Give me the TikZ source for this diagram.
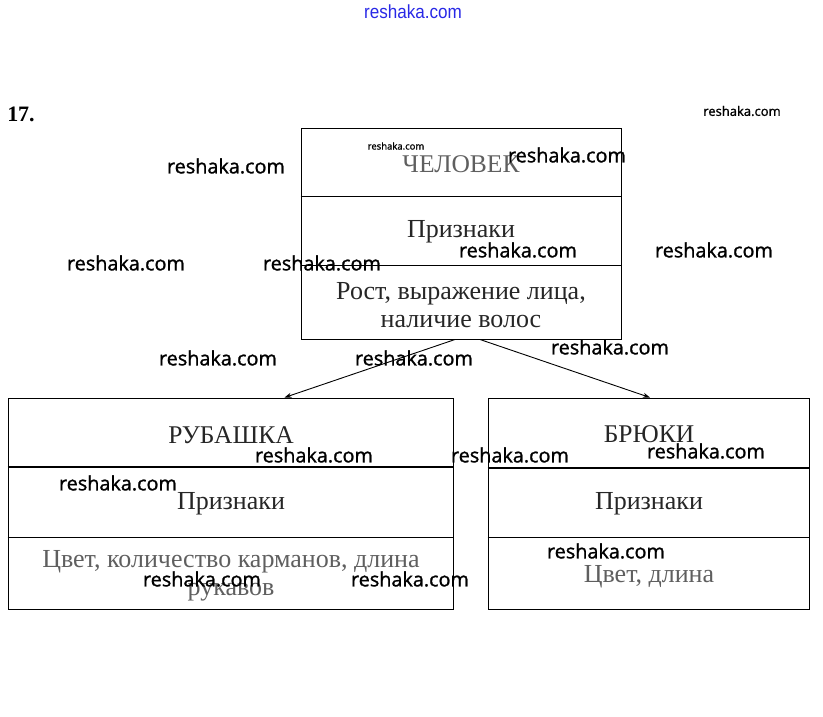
\documentclass[tikz,border=0pt]{standalone}
\usepackage{fontspec}
\setmainfont{Liberation Serif}
\newfontfamily\wmfont{Open Sans}[FakeBold=1.2]
\newfontfamily\wmthin{Liberation Sans}
\usetikzlibrary{arrows.meta, positioning, calc}
\definecolor{fadedtext}{RGB}{95, 95, 95}
\definecolor{wmblue}{RGB}{40, 40, 230}

\begin{document}
\begin{tikzpicture}[
    x=1pt, y=-1pt,
    box/.style={rectangle, draw, line width=1pt, minimum width=#1, minimum height=211pt, inner sep=0pt},
    title/.style={font=\fontsize{25.5}{28}\selectfont, text=fadedtext},
    attr/.style={font=\fontsize{26}{28}\selectfont, align=center, text=black!85},
    wm/.style={font=\wmfont\fontsize{19.8}{22}\selectfont, text=black},
    wmsmall/.style={font=\wmfont\fontsize{13}{15}\selectfont, text=black}
]
\useasboundingbox (0,0) rectangle (823,716);

% Number
\node[font=\bfseries\fontsize{22}{24}\selectfont] (num) at (21,114) {17.};

% Top box
\node[box=320pt] (human) at (461,233.5) {};
\draw[line width=1pt] (human.west |- 0,196) -- (human.east |- 0,196);
\draw[line width=1pt] (human.west |- 0,265) -- (human.east |- 0,265);
\node[title] (humanname) at (461,164) {ЧЕЛОВЕК};
\node[attr] (humansign) at (461,232) {Признаки};
\node[attr] (humanattr) at (461,305) {Рост, выражение лица,\\наличие волос};

% Left box
\node[box=445pt] (shirt) at (230.5,503.5) {};
\draw[line width=1.8pt] (shirt.west |- 0,467) -- (shirt.east |- 0,467);
\draw[line width=1pt] (shirt.west |- 0,537) -- (shirt.east |- 0,537);
\node[title, text=black!85] (shirtname) at (231,435) {РУБАШКА};
\node[attr] (shirtsign) at (231,504) {Признаки};
\node[attr, text=fadedtext] (shirtattr) at (231,576) {Цвет, количество карманов, длина\\рукавов};

% Right box
\node[box=321pt] (pants) at (648.5,503.5) {};
\draw[line width=1.8pt] (pants.west |- 0,468) -- (pants.east |- 0,468);
\draw[line width=1pt] (pants.west |- 0,537) -- (pants.east |- 0,537);
\node[title, text=black!85] (pantsname) at (649,434) {БРЮКИ};
\node[attr] (pantssign) at (649,504) {Признаки};
\node[attr, text=fadedtext] (pantsattr) at (649,577) {Цвет, длина};

% Arrows
\draw[-{Stealth[length=7pt,width=5pt]}, line width=0.9pt] ([xshift=-6pt]human.south) -- ([xshift=54pt]shirt.north);
\draw[-{Stealth[length=7pt,width=5pt]}, line width=0.9pt] ([xshift=19pt]human.south) -- ([xshift=1.5pt]pants.north);

% Watermarks
\node[font=\wmthin\fontsize{19}{21}\selectfont, text=wmblue, xscale=0.9] (wm0) at (413,12) {reshaka.com};
\node[wmsmall] (wm1) at (742,111) {reshaka.com};
\node[font=\wmfont\fontsize{9.5}{11}\selectfont] (wm2) at (396,146) {reshaka.com};
\node[wm] (wm3) at (567,155) {reshaka.com};
\node[wm] (wm4) at (226,166) {reshaka.com};
\node[wm] (wm5) at (518,250) {reshaka.com};
\node[wm] (wm6) at (714,250) {reshaka.com};
\node[wm] (wm7) at (126,263) {reshaka.com};
\node[wm] (wm8) at (322,263) {reshaka.com};
\node[wm] (wm9) at (218,358) {reshaka.com};
\node[wm] (wm10) at (414,358) {reshaka.com};
\node[wm] (wm11) at (610,347) {reshaka.com};
\node[wm] (wm12) at (314,455) {reshaka.com};
\node[wm] (wm13) at (510,455) {reshaka.com};
\node[wm] (wm14) at (706,451) {reshaka.com};
\node[wm] (wm15) at (118,483) {reshaka.com};
\node[wm] (wm16) at (606,551) {reshaka.com};
\node[wm] (wm17) at (202,579) {reshaka.com};
\node[wm] (wm18) at (410,579) {reshaka.com};

\end{tikzpicture}
\end{document}
